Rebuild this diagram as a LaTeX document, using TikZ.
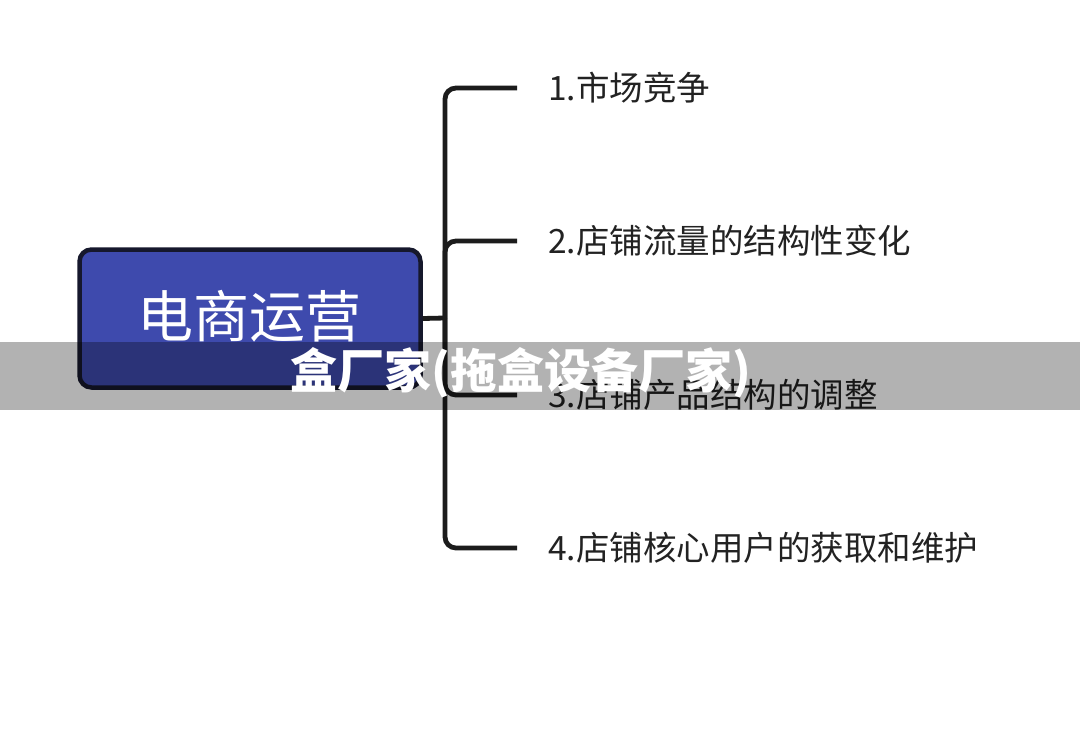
\documentclass[tikz,border=0pt]{standalone}
\usepackage{fontspec}
\newfontfamily\cjk{Noto Sans CJK SC}
\definecolor{boxblue}{HTML}{3E4AAD}
\definecolor{boxedge}{HTML}{16182C}
\definecolor{linecol}{HTML}{1C1C1C}
\definecolor{txtcol}{HTML}{222222}
\tikzset{
  mainbox/.style={draw=boxedge, fill=boxblue, line width=4.5pt, rounded corners=12pt,
    minimum width=341pt, minimum height=138pt, inner sep=0pt},
  maintxt/.style={anchor=base, inner sep=0pt, text=white, font=\cjk\fontsize{56}{62}\selectfont},
  lbl/.style={anchor=base west, inner sep=0pt, text=txtcol, font=\cjk\fontsize{33.5}{38}\selectfont},
  conn/.style={draw=linecol, line width=4.8pt, rounded corners=11pt},
  band/.style={fill=black, opacity=0.3},
  wmark/.style={anchor=base, inner sep=0pt, text=white, font=\cjk\bfseries\fontsize{47}{52}\selectfont}
}
\begin{document}
\begin{tikzpicture}[x=1pt,y=-1pt]
\useasboundingbox[fill=white] (0,0) rectangle (1080,731);
\node[mainbox] (main) at (250,318.5) {};
\node[maintxt] (maintext) at (249,337) {电商运营};
\coordinate (J) at (445,318);
\coordinate (b1) at (517,88);
\coordinate (b2) at (517,241);
\coordinate (b3) at (517,395);
\coordinate (b4) at (517,548);
\node[lbl] (l1) at (548,100) {1.市场竞争};
\node[lbl] (l2) at (548,253) {2.店铺流量的结构性变化};
\node[lbl] (l3) at (548,407) {3.店铺产品结构的调整};
\node[lbl] (l4) at (548,560) {4.店铺核心用户的获取和维护};
\draw[conn] (main.east) -- (J);
\draw[conn] (J) |- (b1);
\draw[conn] (J) |- (b2);
\draw[conn] (J) |- (b3);
\draw[conn] (J) |- (b4);
\fill[band] (0,342) rectangle (1080,410);
\node[wmark] (wm) at (521,388) {盒厂家(拖盒设备厂家)};
\end{tikzpicture}
\end{document}
